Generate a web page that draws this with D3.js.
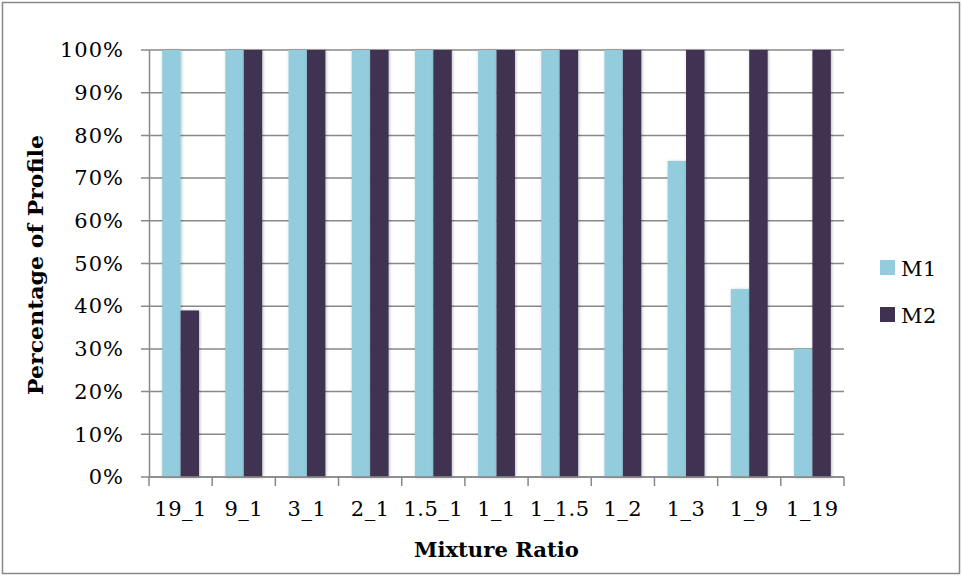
<!DOCTYPE html>
<html><head><meta charset="utf-8">
<script src="https://cdn.jsdelivr.net/npm/d3@7/dist/d3.min.js"></script>
<style>body{margin:0;background:#fff}svg{display:block}text{font-family:"DejaVu Serif","Liberation Serif",serif;fill:#000}</style>
</head><body><svg id="c" width="963" height="577"></svg>
<script>
const categories = ["19_1","9_1","3_1","2_1","1.5_1","1_1","1_1.5","1_2","1_3","1_9","1_19"];
const seriesNames = ["M1","M2"];
const m1Values = [100,100,100,100,100,100,100,100,74,44,30];
const m2Values = [39,100,100,100,100,100,100,100,100,100,100];
const yTicks = [0,10,20,30,40,50,60,70,80,90,100];
const colors = ["#93CDDD","#403151"];

const svg = d3.select("#c");
const defs = svg.append("defs");
const f = defs.append("filter").attr("id","sh").attr("x","-30%").attr("y","-5%").attr("width","160%").attr("height","110%");
f.append("feDropShadow").attr("dx",0.8).attr("dy",0.5).attr("stdDeviation",1.6).attr("flood-color","#000").attr("flood-opacity",0.28);

svg.append("rect").attr("x",2.5).attr("y",2.5).attr("width",957).attr("height",571).attr("fill","#fff").attr("stroke","#888").attr("stroke-width",1.5);

const L=149, R=844, T=50, B=477;
const x = d3.scaleBand().domain(categories).range([L,R]).paddingInner(0).paddingOuter(0);
const xs = d3.scaleBand().domain(seriesNames).range([0,x.bandwidth()]).paddingInner(0).paddingOuter(0.714);
const y = d3.scaleLinear().domain([0,100]).range([B,T]);

// gridlines
svg.append("g").selectAll("line").data(yTicks).join("line")
  .attr("x1",L-8).attr("x2",R).attr("y1",d=>y(d)).attr("y2",d=>y(d))
  .attr("stroke","#888").attr("stroke-width",1.5);

// bars
const data = categories.map((c,i)=>({c, vals:[m1Values[i], m2Values[i]]}));
const g = svg.append("g").selectAll("g").data(data).join("g").attr("transform",d=>`translate(${x(d.c)},0)`);
g.selectAll("rect").data(d=>d.vals.map((v,j)=>({s:seriesNames[j],v,j}))).join("rect")
  .attr("x",d=>xs(d.s)).attr("width",xs.bandwidth())
  .attr("y",d=>y(d.v)).attr("height",d=>B-y(d.v))
  .attr("fill",d=>colors[d.j]).attr("filter","url(#sh)");

// y axis
const ya = svg.append("g").attr("transform",`translate(${L},0)`).call(d3.axisLeft(y).tickValues(yTicks).tickFormat(d=>d+"%").tickSize(0).tickPadding(25));
ya.select(".domain").attr("stroke","#888").attr("stroke-width",1.5);
ya.selectAll("text").attr("font-size",21).style("font-family","DejaVu Serif").attr("letter-spacing","1px");

// x axis
const xa = svg.append("g").attr("transform",`translate(0,${B})`).call(d3.axisBottom(x).tickSize(0).tickPadding(24));
xa.select(".domain").remove();
xa.append("line").attr("x1",L).attr("x2",R).attr("stroke","#888").attr("stroke-width",1.5);
const edges = categories.map(c=>x(c)).concat([R]);
xa.selectAll(".edge").data(edges).join("line").attr("class","edge").attr("x1",d=>d).attr("x2",d=>d).attr("y1",0).attr("y2",9).attr("stroke","#888").attr("stroke-width",1.5);
xa.selectAll(".tick text").attr("font-size",21).style("font-family","DejaVu Serif").attr("letter-spacing","0.5px");

// titles
svg.append("text").attr("x",(L+R)/2).attr("y",557).attr("text-anchor","middle").attr("font-size",21).attr("font-weight","bold").attr("textLength",165).attr("lengthAdjust","spacingAndGlyphs").text("Mixture Ratio");
svg.append("text").attr("transform","translate(43,265) rotate(-90)").attr("text-anchor","middle").attr("font-size",21).attr("font-weight","bold").attr("textLength",260).attr("lengthAdjust","spacingAndGlyphs").text("Percentage of Profile");

// legend
const lg = svg.append("g").selectAll("g").data(seriesNames).join("g").attr("transform",(d,i)=>`translate(880,${260+i*47})`);
lg.append("rect").attr("width",15).attr("height",15).attr("fill",(d,i)=>colors[i]);
lg.append("text").attr("x",21).attr("y",16).attr("font-size",21).attr("letter-spacing","0.5px").text(d=>d);
</script></body></html>
